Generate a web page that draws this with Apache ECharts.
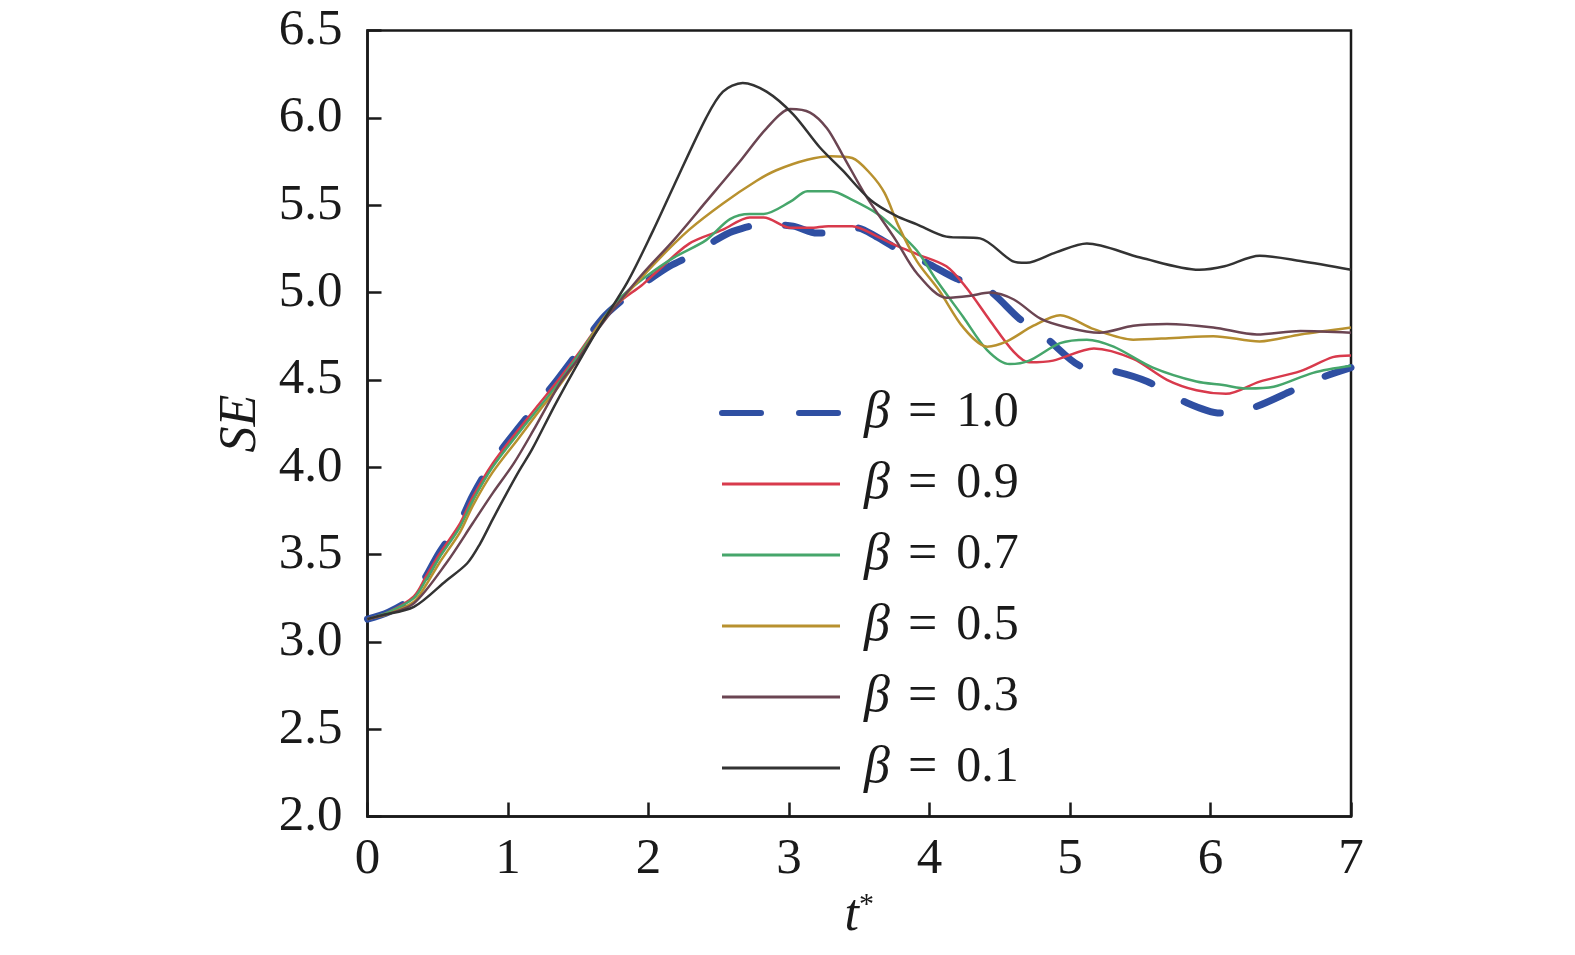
<!DOCTYPE html>
<html>
<head>
<meta charset="utf-8">
<script src="https://cdn.jsdelivr.net/npm/echarts@6/dist/echarts.min.js"></script>
<style>html,body{margin:0;padding:0;background:#fff}#c{width:1575px;height:955px}</style>
</head>
<body>
<div id="c"></div>
<script>
const seriesNames = ['β = 1.0', 'β = 0.9', 'β = 0.7', 'β = 0.5', 'β = 0.3', 'β = 0.1'];
const xTicks = [0, 1, 2, 3, 4, 5, 6, 7];
const yTicks = [2.0, 2.5, 3.0, 3.5, 4.0, 4.5, 5.0, 5.5, 6.0, 6.5];

const beta10 = [[0,3.13],[0.15,3.17],[0.33,3.26],[0.42,3.38],[0.51,3.51],[0.66,3.69],[0.75,3.84],[0.89,4.03],[1.08,4.23],[1.23,4.38],[1.35,4.50],[1.5,4.66],[1.67,4.85],[1.85,4.98],[2.0,5.07],[2.15,5.15],[2.35,5.23],[2.48,5.30],[2.6,5.35],[2.82,5.39],[3.03,5.38],[3.2,5.34],[3.35,5.35],[3.48,5.37],[3.62,5.32],[3.79,5.24],[3.98,5.17],[4.19,5.08],[4.41,5.02],[4.64,4.85],[4.83,4.74],[5.07,4.58],[5.31,4.55],[5.55,4.49],[5.8,4.38],[6.07,4.31],[6.3,4.34],[6.56,4.43],[6.78,4.51],[7.0,4.57]];
const beta09 = [[0,3.13],[0.15,3.17],[0.33,3.26],[0.42,3.38],[0.51,3.50],[0.66,3.68],[0.75,3.83],[0.89,4.02],[1.08,4.22],[1.23,4.37],[1.35,4.49],[1.5,4.65],[1.67,4.84],[1.8,4.95],[1.95,5.04],[2.06,5.12],[2.29,5.28],[2.53,5.36],[2.72,5.43],[2.82,5.43],[3.01,5.37],[3.15,5.37],[3.28,5.38],[3.45,5.38],[3.63,5.32],[3.76,5.27],[3.91,5.22],[4.12,5.15],[4.26,5.03],[4.43,4.84],[4.6,4.66],[4.71,4.60],[4.88,4.61],[5.17,4.68],[5.45,4.62],[5.69,4.50],[5.9,4.44],[6.11,4.42],[6.35,4.49],[6.64,4.55],[6.87,4.63],[7.0,4.64]];
const beta07 = [[0,3.13],[0.15,3.17],[0.33,3.25],[0.42,3.36],[0.51,3.48],[0.66,3.66],[0.75,3.81],[0.89,4.00],[1.08,4.20],[1.23,4.35],[1.35,4.47],[1.5,4.64],[1.67,4.84],[1.8,4.97],[1.98,5.09],[2.18,5.20],[2.41,5.30],[2.58,5.42],[2.72,5.45],[2.82,5.45],[3.01,5.52],[3.13,5.58],[3.3,5.58],[3.45,5.53],[3.63,5.45],[3.76,5.36],[3.91,5.24],[4.05,5.07],[4.24,4.86],[4.41,4.67],[4.57,4.59],[4.71,4.61],[4.93,4.71],[5.12,4.73],[5.31,4.69],[5.59,4.57],[5.9,4.49],[6.09,4.47],[6.26,4.45],[6.45,4.46],[6.73,4.54],[7.0,4.58]];
const beta05 = [[0,3.13],[0.15,3.16],[0.33,3.23],[0.42,3.33],[0.51,3.45],[0.66,3.63],[0.75,3.78],[0.89,3.97],[1.08,4.17],[1.23,4.33],[1.35,4.45],[1.5,4.62],[1.67,4.84],[1.82,4.97],[2.06,5.18],[2.29,5.36],[2.53,5.51],[2.77,5.64],[2.91,5.70],[3.13,5.76],[3.3,5.78],[3.45,5.77],[3.58,5.68],[3.68,5.57],[3.78,5.38],[3.91,5.18],[4.07,5.01],[4.24,4.80],[4.41,4.69],[4.55,4.72],[4.74,4.81],[4.93,4.87],[5.17,4.79],[5.45,4.73],[5.74,4.74],[6.02,4.75],[6.35,4.72],[6.64,4.76],[7.0,4.80]];
const beta03 = [[0,3.13],[0.15,3.16],[0.33,3.22],[0.56,3.45],[0.75,3.68],[0.89,3.85],[1.04,4.02],[1.18,4.21],[1.37,4.48],[1.5,4.62],[1.65,4.80],[1.94,5.09],[2.18,5.30],[2.41,5.52],[2.65,5.75],[2.84,5.94],[3.01,6.05],[3.15,6.03],[3.27,5.94],[3.38,5.79],[3.55,5.55],[3.76,5.30],[3.91,5.11],[4.12,4.97],[4.28,4.98],[4.43,5.00],[4.6,4.96],[4.79,4.85],[4.98,4.80],[5.21,4.77],[5.45,4.81],[5.69,4.82],[6.02,4.80],[6.33,4.76],[6.64,4.78],[7.0,4.77]];
const beta01 = [[0,3.13],[0.09,3.15],[0.33,3.20],[0.56,3.35],[0.71,3.45],[0.8,3.56],[0.89,3.70],[0.99,3.85],[1.08,3.98],[1.17,4.10],[1.35,4.38],[1.61,4.75],[1.85,5.06],[2.03,5.35],[2.18,5.61],[2.41,6.00],[2.53,6.15],[2.67,6.20],[2.84,6.15],[3.03,6.02],[3.22,5.83],[3.38,5.70],[3.58,5.53],[3.76,5.44],[3.91,5.39],[4.12,5.32],[4.36,5.31],[4.59,5.18],[4.69,5.17],[4.9,5.23],[5.12,5.28],[5.5,5.20],[5.92,5.13],[6.1,5.15],[6.35,5.21],[6.64,5.18],[7.0,5.13]];

const seriesData = [beta10, beta09, beta07, beta05, beta03, beta01];
const colors = ['#2f4fa2', '#d83a4c', '#46a66b', '#b8912f', '#6b4552', '#333333'];

const FONT = '"Liberation Serif", "Times New Roman", serif';
const TXT = '#1a1a1a';
const chart = echarts.init(document.getElementById('c'), null, {renderer: 'canvas'});

const lineStyles = colors.map((c, i) => i === 0
  ? {color: c, width: 7, type: [38, 37], cap: 'round'}
  : {color: c, width: 2.5});

const series = seriesNames.map((n, i) => ({
  name: n,
  type: 'line',
  data: seriesData[i],
  showSymbol: false,
  symbol: 'none',
  smooth: 0.3,
  z: 2 + i,
  lineStyle: lineStyles[i],
  itemStyle: {color: colors[i]}
}));

const legendLine = colors.map((c, i) => i === 0
  ? {color: c, width: 6, type: [39, 38], cap: 'round'}
  : {color: c, width: 3});

chart.setOption({
  animation: false,
  backgroundColor: '#ffffff',
  grid: {left: 367.5, top: 30.5, width: 983.5, height: 786, show: true, borderColor: TXT, borderWidth: 2.5, backgroundColor: 'transparent'},
  xAxis: {
    type: 'value', min: xTicks[0], max: xTicks[xTicks.length - 1], interval: 1,
    name: '{i|t}{s|*}', nameLocation: 'middle', nameGap: 72,
    nameTextStyle: {rich: {i: {fontFamily: FONT, fontStyle: 'italic', fontSize: 52, color: TXT}, s: {fontFamily: FONT, fontSize: 30, color: TXT, verticalAlign: 'top', padding: [0, 0, 22, 0]}}},
    axisLine: {lineStyle: {color: TXT, width: 2.5}},
    axisTick: {inside: true, length: 14, lineStyle: {color: TXT, width: 2.5}},
    axisLabel: {margin: 18, fontFamily: FONT, fontSize: 51, color: TXT, formatter: v => String(v)},
    splitLine: {show: false}
  },
  yAxis: {
    type: 'value', min: yTicks[0], max: yTicks[yTicks.length - 1], interval: 0.5,
    name: 'SE', nameLocation: 'middle', nameGap: 100, nameRotate: 90,
    nameTextStyle: {fontFamily: FONT, fontStyle: 'italic', fontSize: 52, color: TXT},
    axisLine: {lineStyle: {color: TXT, width: 2.5}},
    axisTick: {inside: true, length: 14, lineStyle: {color: TXT, width: 2.5}},
    axisLabel: {margin: 25, fontFamily: FONT, fontSize: 51, color: TXT, formatter: v => v.toFixed(1)},
    splitLine: {show: false}
  },
  legend: {
    orient: 'vertical', left: 719, top: 387, padding: 0,
    itemWidth: 118, itemHeight: 14, itemGap: 19,
    itemStyle: {opacity: 0},
    data: seriesNames.map((n, i) => ({name: n, lineStyle: legendLine[i], itemStyle: {opacity: 0}})),
    formatter: n => '{g|β}{e|=}{r|' + n.split('= ')[1] + '}',
    textStyle: {
      padding: [0, 0, 0, 19],
      rich: {
        g: {fontFamily: FONT, fontStyle: 'italic', fontSize: 52, color: TXT, lineHeight: 50},
        e: {fontFamily: FONT, fontSize: 52, color: TXT, lineHeight: 50, padding: [0, 19, 0, 18]},
        r: {fontFamily: FONT, fontSize: 50, color: TXT, lineHeight: 50}
      }
    }
  },
  series: series
});
</script>
</body>
</html>
